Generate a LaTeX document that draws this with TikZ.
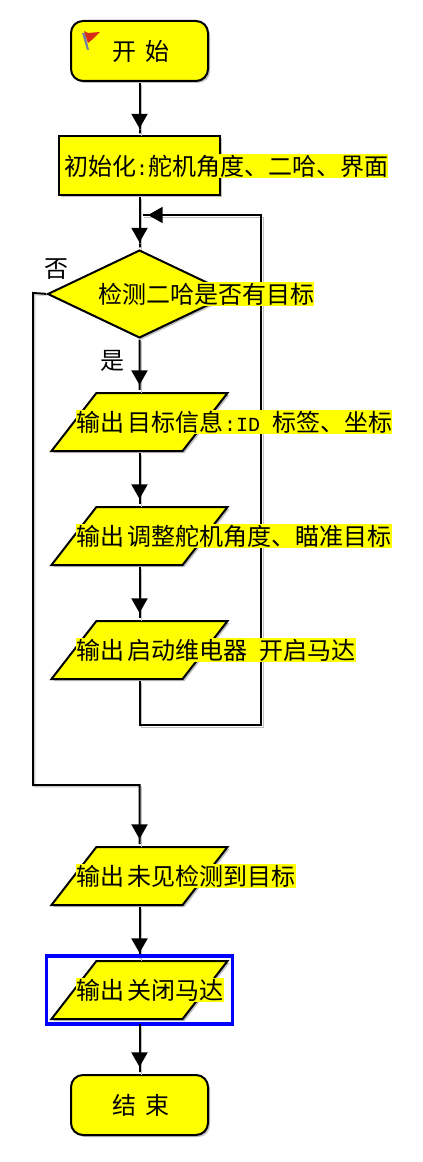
\documentclass[tikz,border=0pt]{standalone}
\usepackage{fontspec}
\setmainfont{Noto Sans CJK SC}
\newfontfamily\latinmono{Liberation Mono}
\usetikzlibrary{shapes.geometric,arrows.meta,shadows}
\definecolor{shadowgray}{RGB}{192,192,192}
\definecolor{flowblue}{RGB}{0,0,255}
\definecolor{boxyellow}{RGB}{255,255,0}
\definecolor{flagred}{RGB}{214,44,24}
\definecolor{flagpole}{RGB}{120,125,165}
\def\px{0.75pt}
\newcommand{\halfw}[1]{{\fontsize{15pt}{18pt}\selectfont\latinmono #1}}
\tikzset{
  boxshadow/.style={general shadow={shadow xshift=1.5pt,shadow yshift=-1.5pt,fill=shadowgray}},
  shapebase/.style={draw=black,fill=boxyellow,line width=1.5pt,inner sep=0pt,outer sep=0pt,boxshadow},
  terminal/.style={shapebase,rectangle,rounded corners=9pt,minimum width=137*\px,minimum height=60*\px},
  process/.style={shapebase,rectangle,minimum width=161*\px,minimum height=59*\px},
  decision/.style={shapebase,diamond,minimum width=183*\px,minimum height=87*\px},
  iobox/.style={shapebase,trapezium,trapezium left angle=60,trapezium right angle=120,trapezium stretches=true,minimum width=176*\px,minimum height=58*\px},
  selectbox/.style={draw=flowblue,line width=2.6pt,rectangle,inner sep=0pt,outer sep=0pt,minimum width=186*\px,minimum height=68*\px},
  lbl/.style={anchor=west,inner sep=0pt,outer sep=0pt,fill=boxyellow,text height=15.8pt,text depth=2.2pt,font=\fontsize{18pt}{18pt}\selectfont},
  plainlbl/.style={lbl,fill=none},
  linkshadow/.style={preaction={draw=shadowgray,-,transform canvas={xshift=1.5pt,yshift=-1.5pt}}},
  link/.style={draw=black,line width=1.5pt,linkshadow},
  flow/.style={link,shorten <=1.5pt,shorten >=1.5pt,-{Triangle[length=11pt,width=12pt]Rectangle[length=4.5pt,width=1.5pt]}},
}
\begin{document}
\begin{tikzpicture}[x=0.75pt,y=-0.75pt]
\useasboundingbox (0,0) rectangle (422,1162);
% shapes
\node[terminal] (start) at (139.5,51) {};
\node[process] (init) at (139.5,166) {};
\node[decision] (check) at (139.5,294) {};
\node[iobox] (p1) at (139.5,422) {\phantom{M}};
\node[iobox] (p2) at (139.5,536) {\phantom{M}};
\node[iobox] (p3) at (139.5,650) {\phantom{M}};
\node[iobox] (p4) at (139.5,876) {\phantom{M}};
\node[iobox] (p5) at (139.5,990) {\phantom{M}};
\node[terminal] (finish) at (139.5,1105) {};
% flag icon
\fill[fill=flagpole] (82,33) -- (85,33) -- (89,50) -- (87,50) -- cycle;
\fill[fill=flagred] (84,31) -- (88,33) -- (100,32) -- (93,39) -- (88,43) -- cycle;
% loop and branch coordinates
\coordinate (loopbr) at (261,725);
\coordinate (looptr) at (261,215);
\coordinate (merge) at (142,215);
\coordinate (branchtl) at (33,293);
\coordinate (branchbl) at (33,785);
\coordinate (branchbr) at (139.5,785);
% connectors
\draw[flow] (start.south) -- (init.north);
\draw[flow] (init.south) -- (check.north);
\draw[flow] (check.south) -- (p1.north);
\draw[flow] (p1.south) -- (p2.north);
\draw[flow] (p2.south) -- (p3.north);
\draw[flow,shorten >=0pt] (p3.south) |- (loopbr) -- (looptr) -- (merge);
\draw[flow] (check.west) -- (branchtl) -- (branchbl) -- (branchbr) -- (p4.north);
\draw[flow] (p4.south) -- (p5.north);
\node[selectbox] (sel) at (139.5,990) {};
\draw[flow,shorten <=0pt] (sel.south) -- (finish.north);
% texts
\node[plainlbl] (tstart) at (112,51) {开\hspace{7.5pt}始};
\node[lbl] (tinit) at (64,166) {初始化\halfw{:}舵机角度、二哈、界面};
\node[lbl] (tcheck) at (98,294) {检测二哈是否有目标};
\node[plainlbl] (tno) at (44,268) {否};
\node[plainlbl] (tyes) at (100,360) {是};
\node[lbl] (tp1) at (76,422) {输出\hspace{3pt}目标信息\halfw{:ID }标签、坐标};
\node[lbl] (tp2) at (76,536) {输出\hspace{3pt}调整舵机角度、瞄准目标};
\node[lbl] (tp3) at (76,650) {输出\hspace{3pt}启动维电器\hspace{9pt}开启马达};
\node[lbl] (tp4) at (76,876) {输出\hspace{3pt}未见检测到目标};
\node[lbl] (tp5) at (76,990) {输出\hspace{3pt}关闭马达};
\node[plainlbl] (tfinish) at (112,1105) {结\hspace{7.5pt}束};
\end{tikzpicture}
\end{document}
